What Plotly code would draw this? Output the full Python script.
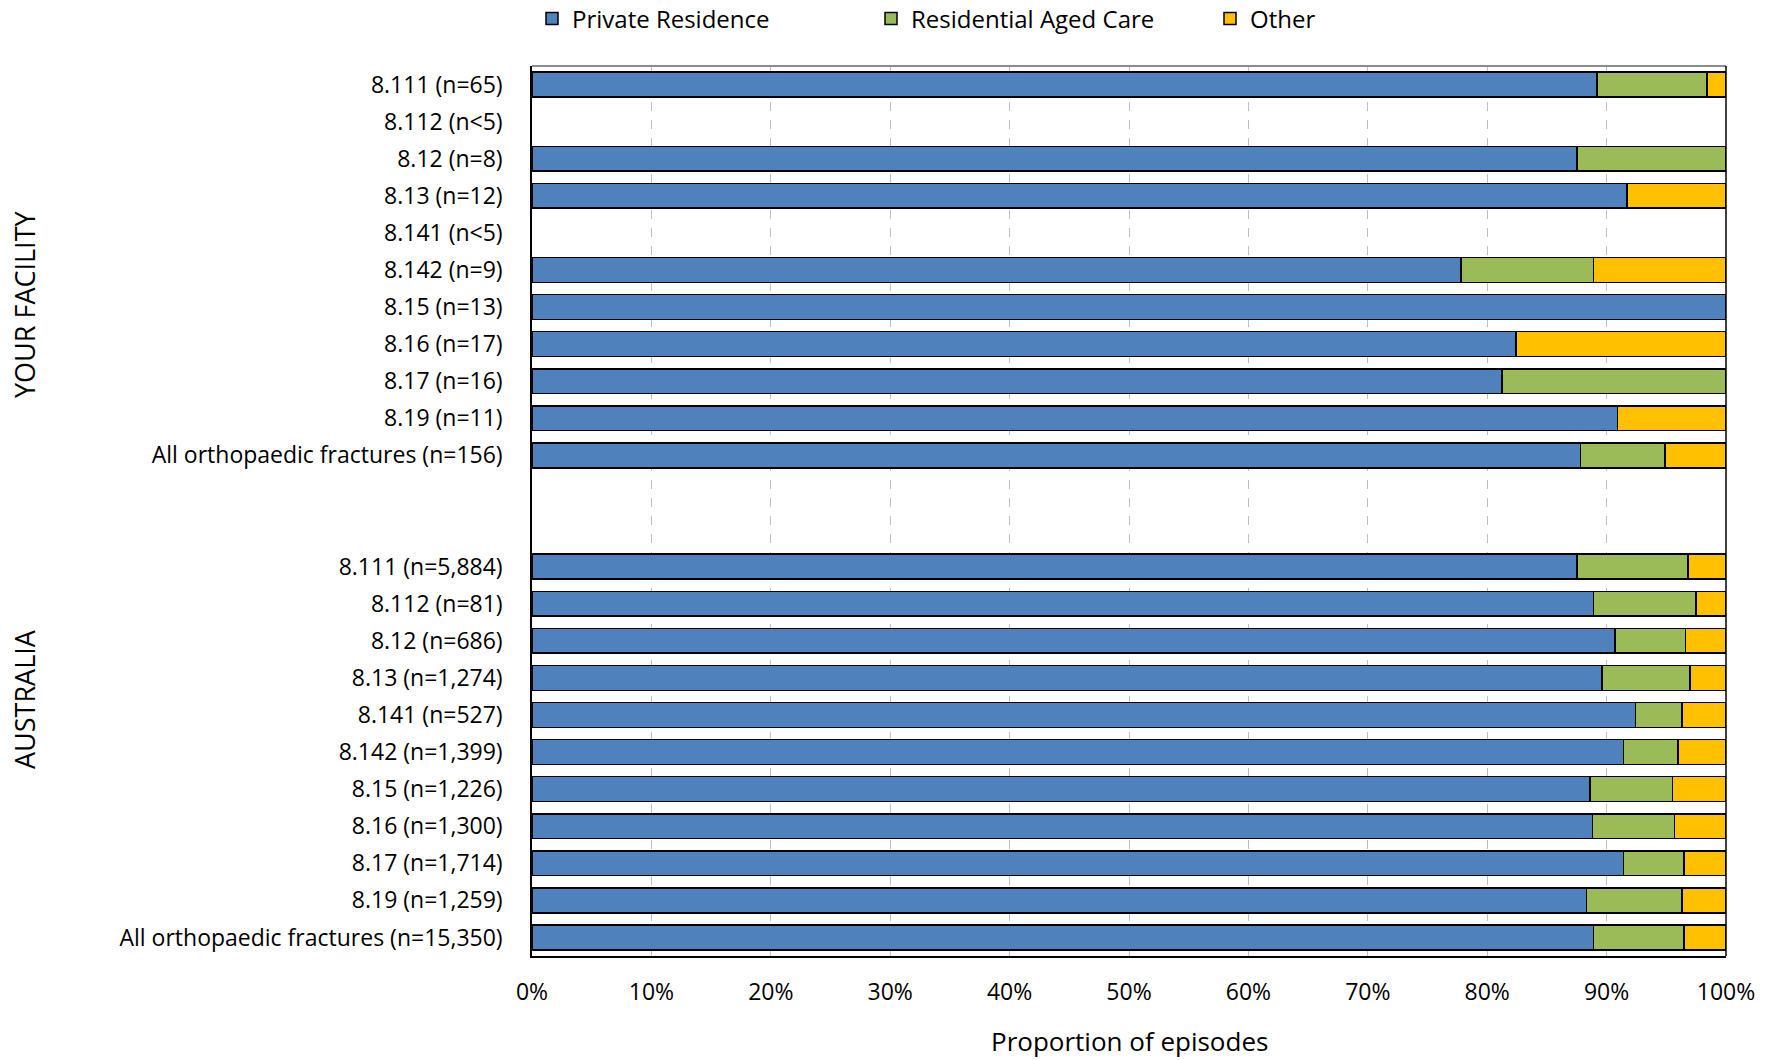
import plotly.graph_objects as go

categories = [
    "8.111 (n=65)", "8.112 (n<5)", "8.12 (n=8)", "8.13 (n=12)", "8.141 (n<5)",
    "8.142 (n=9)", "8.15 (n=13)", "8.16 (n=17)", "8.17 (n=16)", "8.19 (n=11)",
    "All orthopaedic fractures (n=156)",
    " ", "  ",
    "8.111 (n=5,884)", "8.112 (n=81)", "8.12 (n=686)", "8.13 (n=1,274)",
    "8.141 (n=527)", "8.142 (n=1,399)", "8.15 (n=1,226)", "8.16 (n=1,300)",
    "8.17 (n=1,714)", "8.19 (n=1,259)", "All orthopaedic fractures (n=15,350)",
]

private_residence = [
    89.2, None, 87.5, 91.7, None, 77.8, 100.0, 82.4, 81.25, 90.9, 87.8,
    None, None,
    87.5, 88.9, 90.7, 89.6, 92.4, 91.4, 88.6, 88.8, 91.4, 88.3, 88.9,
]
residential_aged_care = [
    9.2, None, 12.5, 0.0, None, 11.1, 0.0, 0.0, 18.75, 0.0, 7.1,
    None, None,
    9.3, 8.6, 5.9, 7.4, 3.9, 4.6, 6.9, 6.9, 5.1, 8.0, 7.6,
]
other = [
    1.6, None, 0.0, 8.3, None, 11.1, 0.0, 17.6, 0.0, 9.1, 5.1,
    None, None,
    3.2, 2.5, 3.4, 3.0, 3.7, 4.0, 4.5, 4.3, 3.5, 3.7, 3.5,
]

x_ticks = [0, 10, 20, 30, 40, 50, 60, 70, 80, 90, 100]

series = [
    ("Private Residence", private_residence, "#4F81BD"),
    ("Residential Aged Care", residential_aged_care, "#9BBB59"),
    ("Other", other, "#FFC000"),
]

FONT = "Open Sans"

fig = go.Figure()
for name, vals, color in series:
    fig.add_trace(go.Bar(
        y=categories, x=vals, name=name, orientation="h",
        marker=dict(color=color, line=dict(color="black", width=1.5)),
    ))

fig.update_layout(
    barmode="stack",
    bargap=0.33,
    width=1767, height=1060,
    margin=dict(l=532, r=41, t=66, b=104, autoexpand=False),
    plot_bgcolor="white", paper_bgcolor="white",
    font=dict(family=FONT, size=23, color="black"),
    legend=dict(
        orientation="h", x=0.0, xanchor="left", y=1.0528, yanchor="middle",
        font=dict(size=24), entrywidth=294, entrywidthmode="pixels",
        traceorder="normal",
    ),
    xaxis=dict(
        range=[0, 100], tickvals=x_ticks, ticktext=[f"{v}%" for v in x_ticks],
        showgrid=True, gridcolor="#BFBFBF", griddash="dash", gridwidth=1,
        showline=True, linecolor="black", linewidth=2, mirror=False,
        zeroline=False, ticks="", ticklabelstandoff=14, automargin=False,
        tickfont=dict(size=23),
    ),
    yaxis=dict(
        categoryorder="array", categoryarray=categories, autorange="reversed",
        showline=True, linecolor="black", linewidth=1.5, automargin=False,
        showgrid=False, zeroline=False, ticks="", ticklabelstandoff=23,
        tickfont=dict(size=23),
    ),
    annotations=[
        dict(text="Proportion of episodes", xref="paper", yref="paper",
             x=0.5, y=-0.096, showarrow=False, font=dict(size=26),
             xanchor="center", yanchor="middle"),
        dict(text="YOUR FACILITY", xref="paper", yref="paper",
             x=-0.4246, y=0.7326, textangle=-90, showarrow=False,
             font=dict(size=27), xanchor="center", yanchor="middle"),
        dict(text="AUSTRALIA", xref="paper", yref="paper",
             x=-0.4246, y=0.2888, textangle=-90, showarrow=False,
             font=dict(size=27), xanchor="center", yanchor="middle"),
    ],
    shapes=[
        dict(type="line", xref="paper", yref="paper", x0=0, x1=1, y0=1, y1=1,
             line=dict(color="#8C8C8C", width=2)),
        dict(type="line", xref="paper", yref="paper", x0=1, x1=1, y0=0, y1=1,
             line=dict(color="black", width=1.5)),
    ],
)

fig.write_html(
    "out.html",
    config={"displayModeBar": False},
    post_script="document.body.style.margin='0';document.body.style.overflow='hidden';",
)
